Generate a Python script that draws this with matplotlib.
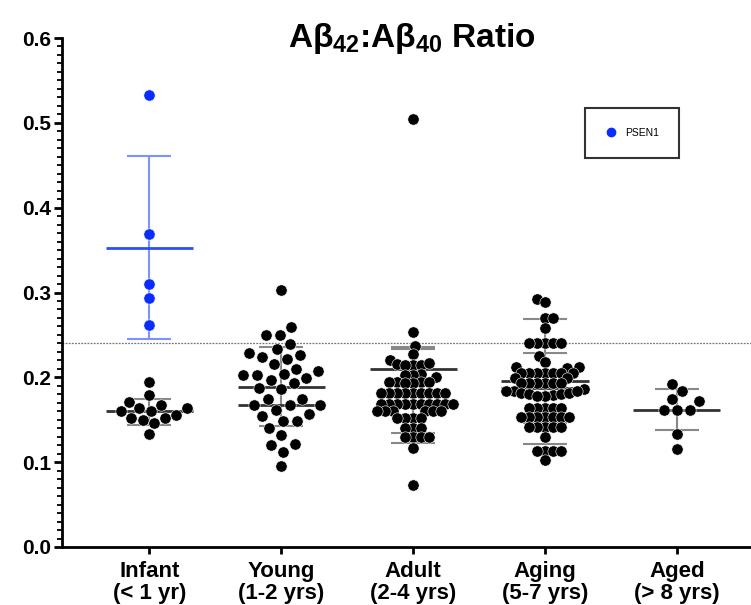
import numpy as np
import matplotlib
matplotlib.use("Agg")
import matplotlib.pyplot as plt
from matplotlib.lines import Line2D
from matplotlib.ticker import MultipleLocator

plt.rcParams['font.family'] = ['Liberation Sans', 'DejaVu Sans']
plt.rcParams['mathtext.fontset'] = 'custom'
plt.rcParams['mathtext.bf'] = 'Liberation Sans:bold'
plt.rcParams['mathtext.rm'] = 'Liberation Sans:bold'

# ---------------- data ----------------
categories = ['Infant\n(< 1 yr)', 'Young\n(1-2 yrs)', 'Adult\n(2-4 yrs)',
              'Aging\n(5-7 yrs)', 'Aged\n(> 8 yrs)']

infant_psen1 = [0.533, 0.369, 0.310, 0.294, 0.262]

infant = [0.195, 0.179, 0.171, 0.167, 0.1635, 0.1635, 0.160, 0.160, 0.156,
          0.152, 0.152, 0.150, 0.146, 0.133]

young = [0.303, 0.259, 0.250, 0.250, 0.239, 0.233, 0.229, 0.224, 0.226, 0.222,
         0.216, 0.210, 0.208, 0.203, 0.204, 0.203, 0.199, 0.197, 0.193, 0.186,
         0.187, 0.175, 0.175, 0.167, 0.167, 0.167, 0.162, 0.154, 0.157, 0.148,
         0.149, 0.140, 0.132, 0.120, 0.121, 0.112, 0.096]

adult = [0.505, 0.2535, 0.237, 0.228, 0.2205, 0.216, 0.215, 0.215, 0.215, 0.217,
         0.204, 0.203, 0.203, 0.200, 0.194, 0.194, 0.193, 0.193, 0.195, 0.195,
         0.181, 0.181, 0.181, 0.181, 0.181, 0.181, 0.181, 0.181, 0.181,
         0.169, 0.169, 0.169, 0.169, 0.169, 0.169, 0.169, 0.169, 0.169, 0.169,
         0.160, 0.160, 0.160, 0.160, 0.160, 0.160,
         0.152, 0.152, 0.152, 0.152, 0.140, 0.140, 0.140,
         0.130, 0.130, 0.130, 0.130, 0.117, 0.073]

aging = [0.292, 0.289, 0.2697, 0.2697, 0.258,
         0.241, 0.241, 0.241, 0.241, 0.241, 0.225, 0.2185, 0.212, 0.212, 0.211,
         0.205, 0.205, 0.205, 0.205, 0.205, 0.205, 0.205, 0.199, 0.199,
         0.193, 0.193, 0.193, 0.193, 0.193, 0.193,
         0.186, 0.184, 0.182, 0.180, 0.179, 0.178, 0.178, 0.180, 0.182, 0.184, 0.184,
         0.164, 0.164, 0.164, 0.164, 0.164,
         0.153, 0.153, 0.153, 0.153, 0.153, 0.153, 0.153,
         0.142, 0.142, 0.142, 0.142, 0.142, 0.130,
         0.113, 0.113, 0.113, 0.113, 0.102]

aged = [0.184, 0.192, 0.175, 0.1725, 0.162, 0.161, 0.162, 0.133, 0.115]

groups = [infant, young, adult, aging, aged]

# mean lines and SD bars as drawn in the picture (center, lower, upper)
mean_lines = [[0.160], [0.189, 0.167], [0.210], [0.196, 0.1875], [0.1615]]
sd_bars = [[(0.160, 0.144, 0.175)],
           [(0.189, 0.143, 0.2355)],
           [(0.180, 0.123, 0.236), (0.183, 0.134, 0.233)],
           [(0.196, 0.1215, 0.269), (0.1875, 0.146, 0.229)],
           [(0.1615, 0.138, 0.186)]]
psen1_mean = [0.353]
psen1_sd = [(0.353, 0.245, 0.461)]

threshold = [0.24]

# pixel scale of the axes (for the swarm layout)
XPX = 689 / (4.562 + 0.662)
YPX = 509 / 0.6
swarm_halfwidth = [40.0, 40.0, 40.0, 40.0, 22.0]


def swarm_once(vals, d):
    v = np.asarray(vals, float) * YPX
    order = np.argsort(v, kind='stable')
    px, py = [], []
    x = np.zeros(len(v))
    flip = 1
    for i in order:
        y = v[i]
        iv = []
        for xj, yj in zip(px, py):
            dy = abs(y - yj)
            if dy < d:
                w = np.sqrt(d * d - dy * dy)
                iv.append((xj - w, xj + w))
        cands = [0.0] + [a for a, b in iv] + [b for a, b in iv]
        cands.sort(key=lambda c: (round(abs(c), 6), -flip * np.sign(c)))
        chosen = 0.0
        for c in cands:
            if all(not (a + 1e-6 < c < b - 1e-6) for a, b in iv):
                chosen = c
                break
        if chosen != 0:
            flip = -flip
        x[i] = chosen
        px.append(chosen)
        py.append(y)
    return x


def swarm(vals, d0=15.5, maxhalf=40.0):
    d = d0
    while True:
        x = swarm_once(vals, d)
        if np.max(np.abs(x)) <= maxhalf or d < 4:
            return x / XPX
        d -= 0.25


fig = plt.figure(figsize=(7.51, 6.05), dpi=100)
ax = fig.add_axes([62 / 751, 58 / 605, 689 / 751, 509 / 605])

MS = 66
mean_hw = 0.33
cap_pt = 15.5

for gi, vals in enumerate(groups):
    for m in mean_lines[gi]:
        ax.hlines(m, gi - mean_hw, gi + mean_hw, color='#333333', lw=2.0, zorder=2)
    for (c, lo, hi) in sd_bars[gi]:
        ax.errorbar([gi], [c], yerr=[[c - lo], [hi - c]], fmt='none',
                    ecolor='#888888', elinewidth=1.5, capsize=cap_pt,
                    capthick=1.5, zorder=1.5)
    xo = swarm(vals, maxhalf=swarm_halfwidth[gi])
    ax.scatter(gi + xo, vals, s=MS, color='black', edgecolors='white',
               linewidths=0.4, zorder=3)

# PSEN1 (blue)
for m in psen1_mean:
    ax.hlines(m, -mean_hw, mean_hw, color='#2a4dff', lw=2.0, zorder=2)
for (c, lo, hi) in psen1_sd:
    ax.errorbar([0], [c], yerr=[[c - lo], [hi - c]], fmt='none',
                ecolor='#7b93ff', elinewidth=1.5, capsize=cap_pt,
                capthick=1.5, zorder=1.5)
xo = swarm(infant_psen1, d0=11.0)
ax.scatter(0 + xo, infant_psen1, s=MS, color='#0a2cff', edgecolors='white',
           linewidths=0.4, zorder=3)

ax.axhline(threshold[0], color='#777777', lw=0.9, ls=(0, (1.5, 1.0)), zorder=1)

ax.set_ylim(0, 0.6)
ax.set_xlim(-0.662, 4.562)
ax.set_yticks(np.arange(0, 0.61, 0.1))
ax.set_yticklabels([f'{v:.1f}' for v in np.arange(0, 0.61, 0.1)],
                   fontsize=15, fontweight='bold')
ax.yaxis.set_minor_locator(MultipleLocator(0.01))
ax.set_xticks(range(len(categories)))
ax.set_xticklabels(categories, fontsize=16, fontweight='bold', linespacing=1.05)

ax.tick_params(axis='y', which='major', length=6, width=2, pad=2)
ax.tick_params(axis='y', which='minor', length=3.5, width=1.3)
ax.tick_params(axis='x', which='major', length=5, width=2, pad=5)
for sp in ['top', 'right']:
    ax.spines[sp].set_visible(False)
for sp in ['left', 'bottom']:
    ax.spines[sp].set_linewidth(2)

handle = Line2D([], [], marker='o', ls='none', color='#0a2cff', markersize=6)
leg = ax.legend([handle], ['PSEN1'], loc='upper left',
                bbox_to_anchor=((585 - 62) / 689, (547 - 108) / 509),
                fontsize=7.5, frameon=True, fancybox=False, borderpad=1.9,
                handletextpad=0.8, handlelength=1.2, borderaxespad=0)
leg.get_frame().set_edgecolor('black')
leg.get_frame().set_linewidth(1.5)

fig.text(412 / 751, 1 - 39 / 605, 'Aβ$_{\\mathbf{42}}$:Aβ$_{\\mathbf{40}}$ Ratio',
         ha='center', va='center', fontsize=24, fontweight='bold')

fig.savefig('out.png', dpi=100)
